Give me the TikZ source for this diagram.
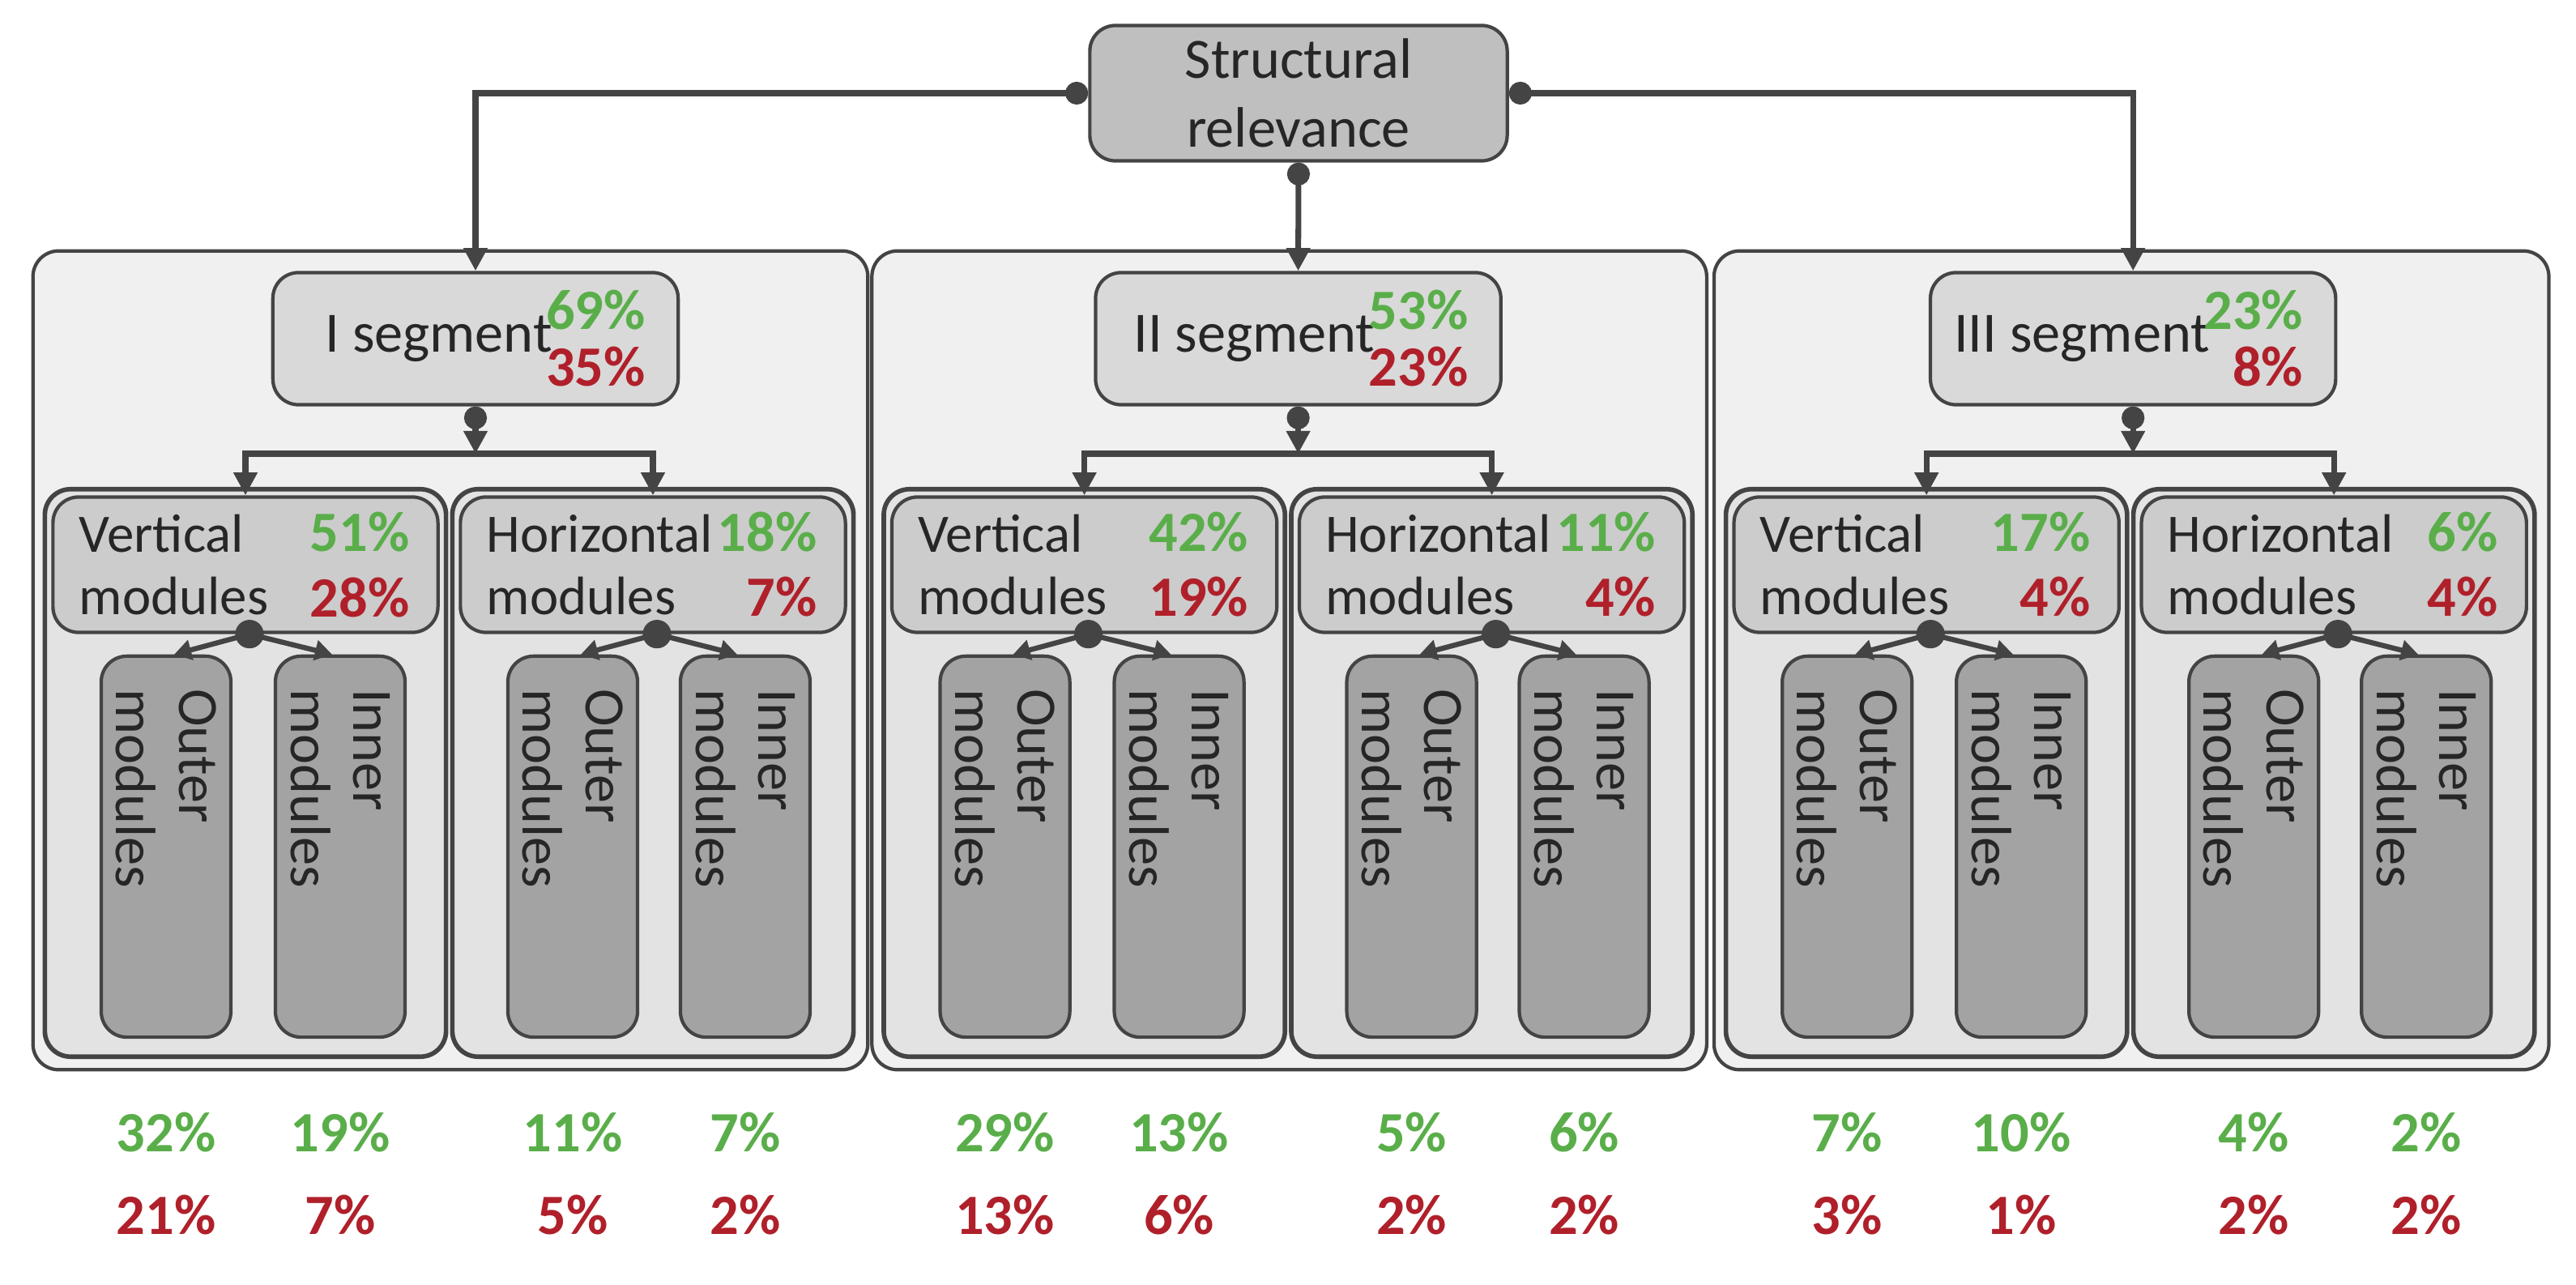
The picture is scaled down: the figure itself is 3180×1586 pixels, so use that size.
\documentclass[tikz,border=0pt]{standalone}
\usepackage{fontspec}
\setmainfont{Carlito}
\usetikzlibrary{arrows.meta}
\definecolor{gr}{HTML}{5AAE4A}
\definecolor{rd}{HTML}{B0202A}
\definecolor{ln}{HTML}{444444}
\tikzset{
  x=0.01cm,y=-0.01cm,
  every node/.style={font=\fontsize{19}{22}\selectfont, text=black!85},
  bx/.style={draw=ln, line width=1.2pt, rounded corners=9pt, inner sep=0pt},
  segbox/.style={bx, fill=black!6},
  subbox/.style={bx, fill=black!11, line width=1.6pt},
  hdr/.style={bx, fill=black!20},
  child/.style={bx, fill=black!36},
  snode/.style={bx, fill=black!15},
  top/.style={bx, fill=black!25},
  conn/.style={draw=ln, line width=2pt, {Circle[length=8pt]}-{Triangle[length=8pt,width=8pt]}},
  connb/.style={draw=ln, line width=1.8pt, -{Triangle[length=6pt,width=7pt]}},
  pg/.style={text=gr, font=\fontsize{20}{22}\selectfont\bfseries},
  pr/.style={text=rd, font=\fontsize{20}{22}\selectfont\bfseries},
  ctext/.style={rotate=-90, anchor=west, align=left, font=\fontsize{20}{22}\selectfont}
}
\newcommand\Seg[9]{%
\begin{scope}[xshift=#1 cm]
\node[segbox, minimum width=10.3cm, minimum height=10.1cm] (#2c) at (556,815) {};
\node[snode, minimum width=5.0cm, minimum height=1.63cm] (#2s) at (#3,418) {};
\node[anchor=east, font=\fontsize{20}{22}\selectfont] (#2sl) at ([xshift=-1.45cm]#2s.east) {#4};
\node[pg, anchor=east] (#2sg) at ([xshift=-0.3cm,yshift=0.35cm]#2s.east) {#5};
\node[pr, anchor=east] (#2sr) at ([xshift=-0.3cm,yshift=-0.35cm]#2s.east) {#6};
\node[subbox, minimum width=4.95cm, minimum height=7.0cm] (#2V) at (303,954) {};
\node[subbox, minimum width=4.95cm, minimum height=7.0cm] (#2H) at (806,954) {};
\node[hdr, minimum width=4.75cm, minimum height=1.67cm] (#2Vh) at (303,697) {};
\node[hdr, minimum width=4.75cm, minimum height=1.67cm] (#2Hh) at (806,697) {};
\node[anchor=west, align=left] (#2Vt) at ([xshift=0.22cm]#2Vh.west) {Vertical\\modules};
\node[anchor=west, align=left] (#2Ht) at ([xshift=0.22cm]#2Hh.west) {Horizontal\\modules};
\node[pg, anchor=east] (#2Vg) at ([xshift=-0.25cm,yshift=0.4cm]#2Vh.east) {#7};
\node[pr, anchor=east] (#2Vr) at ([xshift=-0.25cm,yshift=-0.4cm]#2Vh.east) {#8};
\node[pg, anchor=east] (#2Hg) at ([xshift=-0.25cm,yshift=0.4cm]#2Hh.east) {#9};
\end{scope}}
\newcommand\Kids[2]{%
\begin{scope}[xshift=#1 cm]
\foreach \n/\cx in {VO/205,VI/420,HO/707,HI/920}{
  \node[child, minimum width=1.6cm, minimum height=4.7cm] (#2\n) at (\cx,1045) {};
}
\foreach \n in {VO,HO}{\node[ctext] (#2\n t) at ([yshift=-0.3cm]#2\n.north) {Outer\\modules};}
\foreach \n in {VI,HI}{\node[ctext] (#2\n t) at ([yshift=-0.3cm]#2\n.north) {Inner\\modules};}
\foreach \h/\a/\b in {V/VO/VI,H/HO/HI}{
  \coordinate (#2\h d) at ([xshift=0.05cm]#2\h h.south);
  \draw[connb] (#2\h d) -- ([xshift=0.1cm]#2\a.north);
  \draw[connb] (#2\h d) -- ([xshift=-0.1cm]#2\b.north);
  \fill[ln] (#2\h d) circle (5pt);
}
\coordinate (#2j) at (#2s.south |- 0,560);
\draw[conn] (#2s.south) -- (#2j);
\draw[draw=ln, line width=2pt, -{Triangle[length=8pt,width=8pt]}] (#2j) -| (#2Vh.north);
\draw[draw=ln, line width=2pt, -{Triangle[length=8pt,width=8pt]}] (#2j) -| (#2Hh.north);
\end{scope}}
\begin{document}
\begin{tikzpicture}
\useasboundingbox (0,0) rectangle (3180,1586);
\node[top, minimum width=5.15cm, minimum height=1.67cm, align=center, font=\fontsize{20}{24}\selectfont] (root) at (1603,115) {Structural\\relevance};
\Seg{0}{a}{587}{I segment}{69\%}{35\%}{51\%}{28\%}{18\%}
\node[pr, anchor=east] (aHr) at ([xshift=-0.25cm,yshift=-0.4cm]aHh.east) {7\%};
\Kids{0}{a}
\Seg{10.35}{b}{567}{II segment}{53\%}{23\%}{42\%}{19\%}{11\%}
\node[pr, anchor=east] (bHr) at ([xshift=-0.25cm,yshift=-0.4cm]bHh.east) {4\%};
\Kids{10.35}{b}
\Seg{20.74}{c}{558}{III segment}{23\%}{8\%}{17\%}{4\%}{6\%}
\node[pr, anchor=east] (cHr) at ([xshift=-0.25cm,yshift=-0.4cm]cHh.east) {4\%};
\Kids{20.74}{c}
\draw[conn] (root.west) -| (as.north);
\draw[conn] (root.south) -- (bs.north);
\draw[conn] (root.east) -| (cs.north);
\foreach \k/\g/\r in {aVO/32/21,aVI/19/7,aHO/11/5,aHI/7/2,bVO/29/13,bVI/13/6,bHO/5/2,bHI/6/2,cVO/7/3,cVI/10/1,cHO/4/2,cHI/2/2}{
  \node[pg] (\k g) at (\k.south |- 0,1398) {\g\%};
  \node[pr] (\k r) at (\k.south |- 0,1500) {\r\%};
}
\end{tikzpicture}
\end{document}
